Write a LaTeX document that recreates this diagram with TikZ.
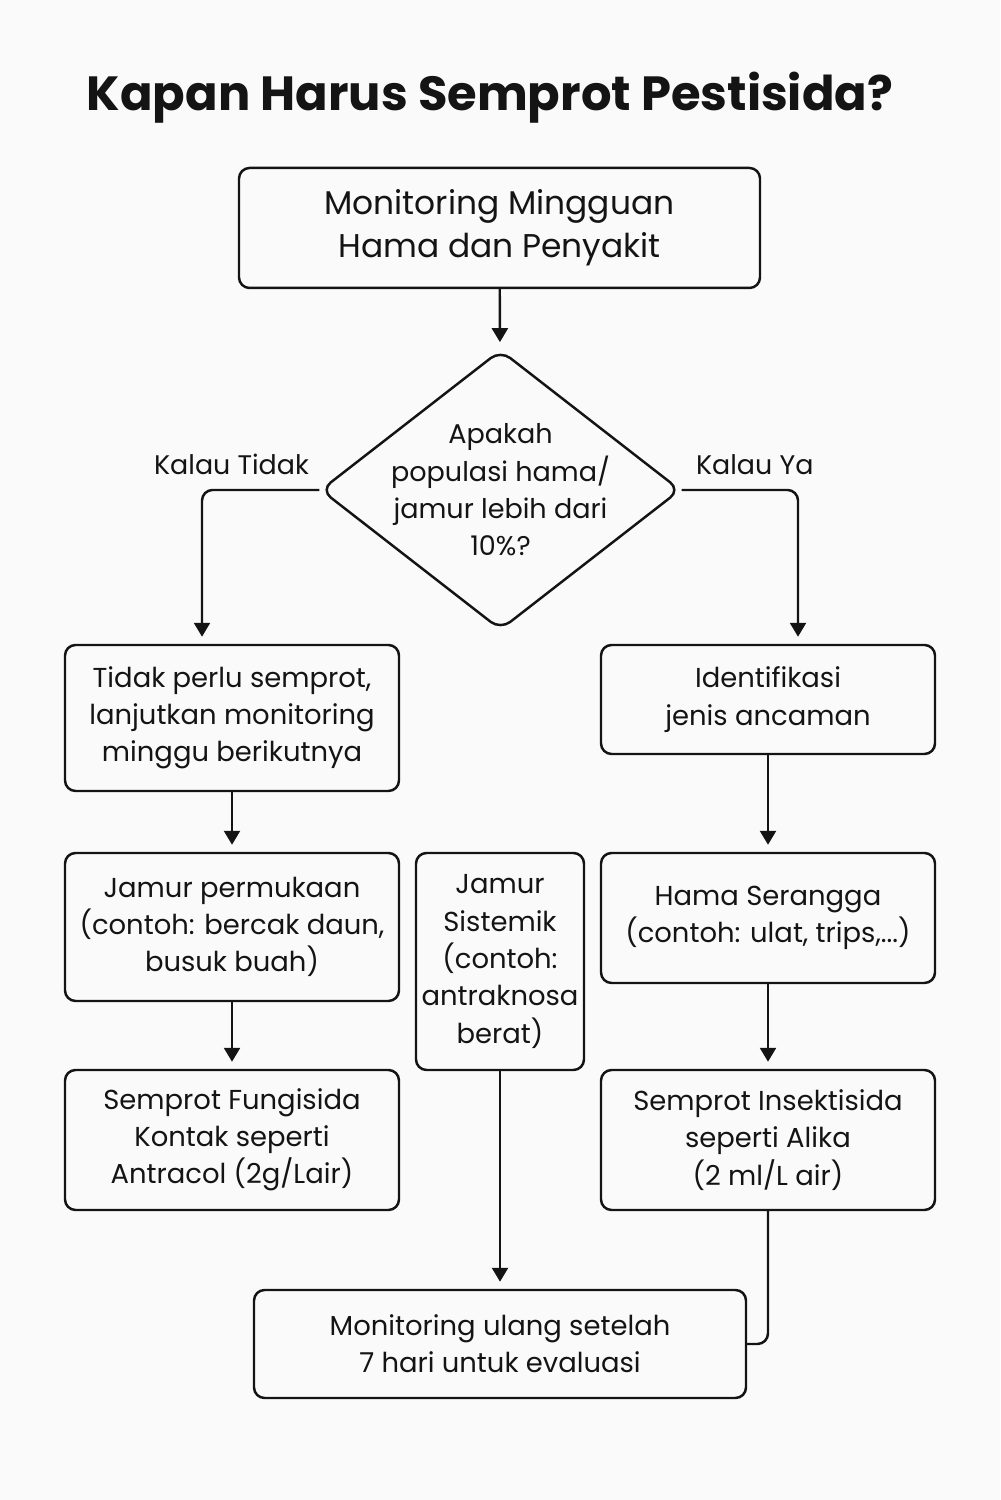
\documentclass[tikz,border=0pt]{standalone}
\usepackage{fontspec}
\setmainfont{Poppins}
\usepackage{tikz}
\tikzset{>=latex}
\usetikzlibrary{arrows.meta}
\usetikzlibrary{shapes}
\usetikzlibrary{calc}
\usetikzlibrary{positioning}
\definecolor{paper}{RGB}{250,250,250}
\definecolor{ink}{RGB}{20,20,20}
\tikzset{
    box/.style={draw=ink, line width=1.4pt, rounded corners=6pt, align=center, inner sep=0pt, text=ink, font=\fontsize{15.6}{21.2}\selectfont},
    decision/.style={draw=ink, line width=1.4pt, rounded corners=7pt, diamond, align=center, inner sep=-0.9cm, text=ink, font=\fontsize{15.4}{21.2}\selectfont},
    branch/.style={inner sep=0pt, text=ink, font=\fontsize{15.3}{21}\selectfont},
    flow/.style={draw=ink, line width=1.4pt, -{Triangle[length=0.28cm, width=0.32cm]}, shorten >=0.14cm},
    link/.style={draw=ink, line width=1.4pt}
}

\begin{document}
\begin{tikzpicture}
    \fill[paper] (0, 0) rectangle (20, 30);
    \useasboundingbox (0, 0) rectangle (20, 30);
    \node[text=ink, font=\fontsize{27.3}{32}\selectfont\bfseries] (title) at (9.8, 28.05) {Kapan Harus Semprot Pestisida?};
    % upper part
    \node[box, minimum width=10.42cm, minimum height=2.4cm, font=\fontsize{18.7}{24.4}\selectfont] (weekly) at (9.99, 25.44) {Monitoring Mingguan\\Hama dan Penyakit};
    \node[decision, minimum width=7.2cm, minimum height=5.6cm] (check) at (10.01, 20.2) {Apakah\\populasi hama/\\jamur lebih dari\\10\%?};
    \node[branch, above left=0.3cm and 0.2cm of check.west] (no) {Kalau Tidak};
    \node[branch, above right=0.3cm and 0.28cm of check.east] (yes) {Kalau Ya};
    \node[box, minimum width=6.68cm, minimum height=2.92cm] (skip) at (4.64, 15.64) {Tidak perlu semprot,\\lanjutkan monitoring\\minggu berikutnya};
    \node[box, minimum width=6.68cm, minimum height=2.18cm] (threat) at (15.36, 16.01) {Identifikasi\\jenis ancaman};
    % kinds of threat
    \node[box, minimum width=6.68cm, minimum height=2.96cm] (surface) at (4.64, 11.46) {Jamur permukaan\\(contoh: bercak daun,\\busuk buah)};
    \node[box, minimum width=3.36cm, minimum height=4.34cm] (systemic) at (10.0, 10.77) {Jamur\\Sistemik\\(contoh:\\antraknosa\\berat)};
    \node[box, minimum width=6.68cm, minimum height=2.6cm] (insect) at (15.36, 11.64) {Hama Serangga\\(contoh: ulat, trips,...)};
    \node[box, minimum width=6.68cm, minimum height=2.8cm] (fungicide) at (4.64, 7.2) {Semprot Fungisida\\Kontak seperti\\Antracol (2g/Lair)};
    \node[box, minimum width=6.68cm, minimum height=2.8cm] (insecticide) at (15.36, 7.2) {Semprot Insektisida\\seperti Alika\\(2 ml/L air)};
    \node[box, minimum width=9.84cm, minimum height=2.16cm] (recheck) at (10.0, 3.12) {Monitoring ulang setelah\\7 hari untuk evaluasi};
    % connectors
    \draw[flow] (weekly) -- (check);
    \draw[flow, rounded corners=6pt] (check.west) -| ([xshift=-0.6cm]skip.north);
    \draw[flow, rounded corners=6pt] (check.east) -| ([xshift=0.6cm]threat.north);
    \draw[flow] (skip) -- (surface);
    \draw[flow] (threat) -- (insect);
    \draw[flow] (surface) -- (fungicide);
    \draw[flow] (insect) -- (insecticide);
    \draw[flow] (systemic) -- (recheck);
    \draw[link, rounded corners=6pt] (insecticide.south) |- (recheck.east);
\end{tikzpicture}
\end{document}
